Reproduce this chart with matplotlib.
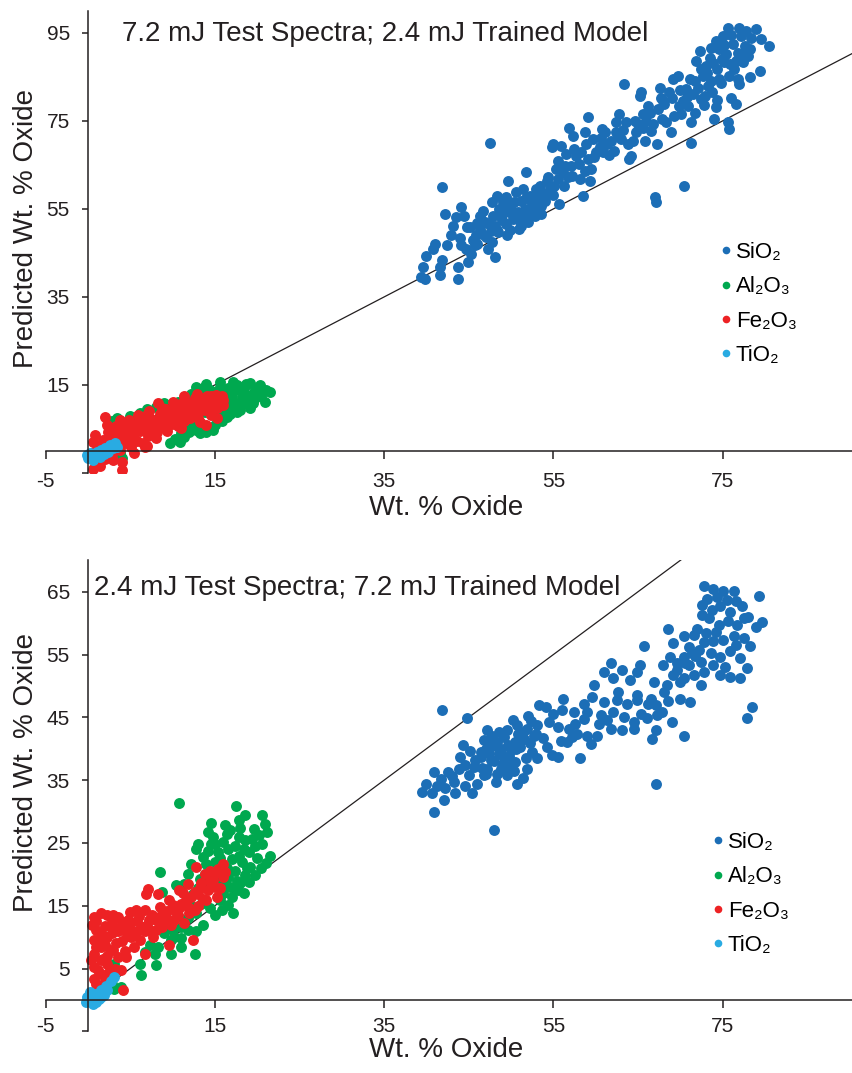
import matplotlib
matplotlib.use("Agg")
import matplotlib.pyplot as plt
from matplotlib.lines import Line2D

plt.rcParams["font.family"] = ["Liberation Sans", "DejaVu Sans"]
plt.rcParams["axes.unicode_minus"] = False

INK = "#231f20"

oxides = ["SiO\u2082", "Al\u2082O\u2083", "Fe\u2082O\u2083", "TiO\u2082"]
oxide_colors = ["#1c6eb6", "#00a84f", "#ed2224", "#29abe2"]

# 1:1 reference line
one_to_one = [0, 95]

# ---- top panel: 7.2 mJ test spectra, 2.4 mJ model (true, predicted)
si_top = [
    (39.4, 39.5), (39.8, 39.1), (39.6, 41.8), (40.0, 44.4), (40.8, 45.9), (41.0, 47.1),
    (41.6, 41.8), (41.6, 39.9), (41.8, 43.3), (42.4, 46.7), (42.9, 49.0), (43.1, 51.2),
    (43.5, 53.1), (42.2, 53.9), (41.8, 59.9), (44.1, 55.4), (44.5, 53.5), (43.7, 41.8),
    (43.7, 39.1), (44.1, 46.7), (44.7, 45.9), (44.9, 42.9), (45.1, 50.8), (45.3, 44.8),
    (45.7, 46.7), (45.9, 49.0), (46.3, 53.5), (46.3, 50.5), (46.7, 54.6), (46.9, 52.0),
    (47.1, 48.6), (47.3, 45.9), (47.5, 70.1), (47.7, 56.5), (47.9, 53.5), (48.1, 51.2),
    (48.1, 44.1), (48.3, 58.0), (48.5, 49.7), (48.8, 53.5), (49.0, 56.5), (49.4, 51.6),
    (49.4, 57.7), (49.6, 61.4), (49.8, 54.2), (50.2, 52.7), (50.4, 56.5), (50.6, 58.8),
    (50.8, 54.2), (51.0, 50.5), (51.2, 56.9), (51.4, 59.5), (51.6, 55.0), (51.8, 63.3),
    (52.0, 52.0), (52.2, 58.0), (52.4, 56.9), (52.8, 53.5), (53.0, 59.5), (53.2, 57.7),
    (53.4, 60.3), (53.8, 58.4), (54.0, 56.9), (54.2, 61.4), (54.4, 62.2), (54.6, 59.5),
    (54.8, 69.0), (55.0, 69.7), (55.1, 60.3), (55.3, 64.1), (55.5, 66.0), (55.7, 56.2),
    (55.9, 69.4), (56.1, 63.3), (56.3, 60.3), (56.5, 67.5), (56.7, 62.2), (56.9, 73.5),
    (57.1, 64.8), (57.3, 71.6), (57.5, 68.6), (57.7, 67.1), (58.1, 61.8), (58.3, 67.9),
    (58.5, 58.0), (58.7, 72.4), (58.9, 69.7), (59.1, 75.8), (59.1, 66.3), (59.3, 61.4),
    (59.5, 64.1), (59.7, 70.9), (60.1, 67.9), (60.5, 69.0), (60.7, 73.1), (60.9, 67.9),
    (61.1, 72.4), (61.4, 69.7), (61.8, 70.5), (62.2, 68.2), (62.4, 74.7), (62.6, 71.6),
    (62.8, 76.6), (63.0, 70.9), (63.4, 83.4), (63.6, 74.7), (63.8, 69.7), (64.0, 66.3),
    (64.2, 67.1), (64.6, 75.0), (64.8, 72.4), (65.0, 74.3), (65.2, 80.7), (65.4, 81.5),
    (65.6, 73.5), (65.8, 70.5), (66.0, 75.0), (66.2, 78.4), (66.4, 76.9), (66.6, 72.8),
    (67.0, 57.7), (67.1, 56.5), (67.2, 69.7), (67.4, 77.7), (67.6, 82.6), (67.7, 80.3),
    (67.9, 75.4), (68.1, 78.8), (68.3, 74.7), (68.7, 81.5), (68.9, 72.4), (69.1, 84.5),
    (69.3, 76.2), (69.7, 85.2), (69.9, 78.4), (70.1, 76.6), (70.3, 79.6), (70.5, 60.3),
    (70.7, 82.2), (70.9, 78.4), (71.1, 84.5), (71.3, 74.7), (71.3, 70.1), (71.5, 81.1),
    (71.7, 76.9), (71.9, 88.6), (72.1, 82.6), (72.3, 90.9), (72.5, 80.0), (72.7, 85.2),
    (72.9, 80.7), (73.1, 87.5), (73.3, 83.0), (73.5, 89.4), (73.6, 84.1), (73.8, 81.5),
    (74.0, 75.4), (74.2, 93.2), (74.2, 78.1), (74.4, 86.8), (74.6, 91.3), (74.8, 83.7),
    (75.0, 94.3), (75.2, 88.3), (75.4, 90.2), (75.6, 96.2), (75.6, 74.7), (75.8, 73.1),
    (75.8, 85.2), (76.0, 80.3), (76.2, 92.4), (76.4, 86.8), (76.6, 78.8), (76.8, 90.5),
    (77.0, 96.2), (77.0, 83.4), (77.2, 94.3), (77.4, 88.3), (77.6, 92.0), (77.8, 95.4),
    (78.0, 89.8), (78.2, 84.9), (78.4, 93.9), (79.0, 95.8), (79.4, 86.4), (79.6, 93.6),
    (80.5, 92.0), (48.6, 55.0), (49.9, 50.2), (50.9, 52.6), (52.6, 55.2), (47.6, 50.0),
    (46.0, 51.8), (49.2, 54.8), (51.5, 53.4), (53.6, 55.6), (74.9, 89.0), (75.9, 88.0),
    (44.0, 48.5), (44.8, 51.0), (45.5, 48.0), (46.0, 47.0), (46.6, 49.2), (47.4, 51.6),
    (47.8, 47.6), (48.4, 50.2), (48.9, 52.4), (49.5, 49.0), (50.0, 55.8), (50.5, 53.8),
    (51.2, 51.2), (51.8, 57.6), (52.3, 54.4), (52.9, 57.0), (53.5, 53.8), (54.3, 58.4),
    (55.0, 58.2), (55.6, 61.8), (56.4, 64.8), (57.2, 62.6), (58.0, 65.2), (58.8, 63.6),
    (59.8, 66.8), (60.6, 71.2), (61.6, 67.2), (62.4, 72.6), (63.2, 73.0), (64.4, 70.4),
    (65.6, 76.6), (66.8, 74.2), (68.0, 79.6), (69.0, 80.2), (70.0, 82.0), (70.8, 80.4),
    (71.8, 84.0), (72.4, 86.8), (73.2, 85.8), (73.9, 88.2), (74.6, 84.6), (75.2, 92.2),
    (76.0, 94.6), (76.6, 88.6), (77.4, 90.2), (78.2, 91.4), (74.4, 79.8), (72.8, 78.6),
    (73.6, 91.6), (76.8, 84.6),
]
al_top = [
    (2.8, 6.8), (3.4, 7.4), (3.6, 5.9), (4.0, -1.6), (3.8, -0.5), (5.0, 8.0), (6.2, 8.6),
    (7.0, 9.6), (8.0, 10.0), (9.0, 10.8), (9.7, 1.7), (10.3, 2.8), (10.9, 2.1), (11.3, 3.2),
    (11.5, 12.0), (12.0, 4.2), (12.4, 5.5), (12.8, 14.6), (13.2, 12.8), (13.5, 6.0),
    (14.0, 15.3), (14.0, 4.4), (14.4, 11.0), (14.8, 4.8), (15.0, 13.5), (15.4, 8.2),
    (15.6, 15.7), (16.0, 11.8), (16.4, 7.8), (16.6, 14.2), (17.0, 12.6), (17.2, 15.7),
    (17.4, 10.2), (17.8, 13.8), (18.0, 9.3), (18.2, 12.0), (18.6, 14.8), (18.7, 15.3),
    (19.0, 11.0), (19.5, 10.8), (19.6, 13.4), (20.0, 14.4), (20.3, 15.0), (20.4, 12.4),
    (20.9, 11.2), (21.0, 13.8), (21.5, 13.5), (16.2, 9.6), (17.6, 8.8), (15.8, 6.8),
    (14.6, 9.6), (13.8, 8.8), (12.6, 7.0), (11.8, 5.6), (13.0, 10.2), (19.2, 9.8),
    (18.4, 10.8), (16.8, 10.6), (15.2, 10.4), (17.6, 15.0), (19.2, 15.5), (12.2, 13.0),
    (10.6, 11.2), (15.0, 6.0), (16.8, 8.4), (13.2, 4.0), (16.2, 13.0), (17.0, 11.4),
    (18.0, 11.0), (18.8, 12.8), (19.8, 12.0), (15.6, 14.6), (14.4, 13.8), (17.4, 14.4),
    (13.6, 14.2), (11.0, 4.0), (12.8, 4.8),
]
fe_top = [
    (0.6, -4.0), (0.9, -3.0), (1.4, -3.5), (2.0, -1.8), (3.0, -2.0), (4.0, -2.4), (4.0, -4.3),
    (2.8, -0.8), (0.6, 2.1), (0.8, 3.6), (1.2, 1.0), (1.5, -1.0), (1.8, 2.5), (2.0, 7.8),
    (2.2, 5.9), (2.3, 0.5), (2.6, 3.0), (3.0, 4.5), (3.2, 1.6), (3.5, 2.8), (3.8, 7.1),
    (3.8, 0.2), (4.1, 4.0), (4.4, 1.8), (4.6, 5.2), (4.9, 3.0), (5.1, 0.9), (5.3, 6.0),
    (5.5, 3.8), (5.5, -0.4), (5.8, 2.2), (6.0, 6.8), (6.2, 4.6), (6.5, 1.8), (6.7, 8.0),
    (6.8, 0.8), (6.9, 5.5), (7.1, 3.4), (7.4, 7.2), (7.6, 4.8), (7.9, 6.2), (7.0, 1.2),
    (8.1, 2.9), (8.3, 10.8), (8.5, 8.4), (8.7, 5.4), (9.0, 7.0), (9.2, 9.5), (9.4, 4.6),
    (9.7, 8.2), (9.9, 6.2), (10.2, 9.8), (10.4, 7.4), (10.6, 5.6), (10.9, 10.6), (11.1, 8.6),
    (11.3, 6.8), (11.6, 11.2), (11.8, 9.2), (12.1, 7.6), (12.3, 10.0), (12.6, 12.0),
    (12.8, 8.4), (13.1, 10.8), (13.3, 6.6), (13.6, 11.8), (13.8, 9.4), (14.0, 5.8),
    (14.1, 12.4), (14.3, 10.2), (14.6, 8.2), (14.8, 11.4), (15.1, 12.8), (15.2, 7.4),
    (15.3, 9.8), (15.6, 11.0), (15.9, 12.4), (16.0, 10.4), (3.3, 5.6), (4.8, 7.0),
    (5.9, 8.2), (7.2, 9.0), (8.8, 9.8), (10.0, 11.2), (11.4, 12.6), (12.9, 13.0),
    (1.0, 0.0), (2.9, 2.0), (4.2, 2.8), (5.0, 4.6), (6.4, 5.8), (7.8, 5.2), (8.4, 7.0),
    (9.6, 7.0), (10.8, 8.0), (12.0, 9.0), (13.4, 9.2), (14.8, 9.8), (11.0, 5.2),
    (1.6, 1.4), (2.4, 4.2), (3.6, 3.6), (4.0, 5.8), (5.4, 2.6), (6.0, 5.0), (7.0, 6.4),
    (8.2, 4.4), (9.0, 5.6), (9.8, 9.2), (10.6, 9.4), (11.6, 7.2), (12.4, 11.2), (13.6, 10.4),
    (14.6, 12.6), (15.4, 12.0), (16.0, 11.6), (13.0, 7.4),
]
ti_top = [
    (-0.15, -0.9), (0.04, -1.7), (0.24, -0.5), (0.6, -2.0), (0.83, -0.9), (1.03, -0.2),
    (1.4, -1.3), (1.6, 0.2), (2.0, 0.6), (2.4, -0.2), (2.6, 1.4), (3.0, 0.6), (3.2, 1.8),
    (3.4, 1.0), (0.3, -1.2), (1.2, -0.6), (1.9, -0.6),
]

# ---- bottom panel: 2.4 mJ test spectra, 7.2 mJ model
si_bot = [
    (72.8, 65.9), (73.9, 65.4), (75.1, 65.1), (76.3, 65.1), (79.3, 64.3), (75.5, 63.7),
    (72.6, 62.9), (73.8, 62.1), (74.7, 62.7), (75.9, 61.8), (77.3, 62.7), (77.5, 60.8),
    (79.7, 60.2), (72.6, 61.3), (73.4, 60.8), (74.6, 59.7), (72.0, 59.1), (76.7, 59.7),
    (78.9, 59.4), (68.6, 59.1), (70.4, 57.9), (71.6, 58.2), (73.0, 58.4), (73.9, 57.1),
    (75.1, 57.4), (76.3, 57.9), (77.5, 57.6), (78.3, 56.3), (69.2, 56.8), (65.7, 56.4),
    (71.0, 56.2), (72.2, 55.7), (73.6, 55.2), (74.7, 54.6), (75.9, 55.5), (77.1, 54.4),
    (70.4, 54.6), (69.6, 53.6), (71.0, 53.3), (72.4, 53.8), (73.9, 53.3), (75.3, 53.0),
    (77.9, 52.8), (68.0, 53.3), (65.3, 53.3), (61.8, 53.6), (63.1, 52.5), (64.9, 52.2),
    (66.9, 50.7), (61.0, 52.2), (59.8, 50.2), (62.0, 51.2), (64.1, 51.0), (69.2, 51.8),
    (70.4, 51.2), (71.6, 51.8), (72.4, 50.2), (74.7, 51.8), (75.9, 51.5), (77.1, 51.2),
    (68.4, 50.2), (70.0, 50.7), (62.7, 49.1), (64.9, 48.5), (68.1, 49.1), (66.5, 48.0),
    (70.0, 48.0), (71.2, 47.5), (59.6, 48.3), (61.0, 47.5), (62.5, 47.7), (63.7, 47.2),
    (64.9, 47.7), (67.1, 46.9), (67.9, 45.8), (56.2, 48.0), (58.6, 47.2), (53.3, 47.0),
    (54.1, 46.7), (56.0, 46.2), (57.4, 45.9), (59.0, 45.9), (60.6, 45.4), (62.1, 45.9),
    (63.3, 45.1), (64.5, 44.3), (66.1, 44.9), (67.3, 45.4), (69.0, 44.3), (58.6, 44.8),
    (60.4, 44.0), (61.8, 43.2), (63.1, 43.0), (64.5, 43.2), (67.1, 43.0), (66.7, 41.6),
    (70.4, 42.1), (53.1, 43.8), (54.5, 44.3), (55.5, 43.5), (56.8, 43.2), (57.8, 42.4),
    (59.0, 42.1), (59.4, 40.8), (57.2, 41.9), (54.3, 40.3), (55.9, 41.3), (56.6, 41.1),
    (54.9, 39.0), (55.5, 38.7), (58.2, 38.5), (51.9, 43.2), (50.7, 43.8), (49.5, 43.0),
    (52.7, 42.1), (51.5, 41.6), (50.5, 41.1), (49.2, 41.9), (48.4, 41.1), (47.8, 42.1),
    (47.0, 40.0), (48.8, 40.0), (50.0, 39.8), (51.1, 40.3), (52.5, 39.5), (51.9, 36.8),
    (53.1, 38.5), (46.4, 38.7), (47.6, 38.2), (49.2, 38.7), (50.5, 37.9), (45.6, 37.1),
    (47.2, 36.8), (48.8, 36.8), (50.0, 37.4), (45.0, 35.8), (46.8, 35.8), (48.4, 36.0),
    (49.5, 35.8), (44.0, 38.7), (43.8, 36.8), (42.5, 36.3), (43.3, 34.7), (44.6, 34.1),
    (46.0, 34.4), (48.2, 34.7), (50.7, 34.4), (45.4, 32.9), (41.7, 35.2), (40.9, 36.3),
    (39.9, 34.4), (39.5, 33.2), (40.7, 32.9), (42.1, 31.8), (43.4, 32.9), (40.9, 29.9),
    (41.9, 46.2), (44.8, 44.9), (48.0, 27.0), (67.1, 34.4), (77.9, 44.9), (78.5, 46.7),
    (70.6, 53.6), (68.8, 54.6), (46.5, 39.5), (47.5, 40.8), (48.6, 39.2), (49.6, 40.6),
    (50.8, 42.4), (51.8, 38.5), (48.0, 38.0), (49.8, 37.0), (46.8, 41.4), (50.2, 44.6),
    (52.4, 44.4), (45.2, 39.6), (44.3, 40.6), (51.4, 35.4), (47.2, 43.0),
    (45.8, 38.2), (46.6, 37.0), (47.4, 39.4), (48.2, 40.4), (49.0, 37.6), (49.8, 38.8),
    (50.6, 40.0), (51.4, 42.6), (52.2, 41.0), (53.0, 42.4), (53.8, 41.8), (47.0, 36.0),
    (48.6, 42.6), (50.4, 36.4), (44.6, 37.4), (43.0, 35.6), (42.2, 33.8), (41.2, 34.0),
    (52.0, 45.2), (55.0, 45.6), (57.6, 44.0), (60.2, 42.0), (61.4, 44.6), (65.4, 45.6),
    (66.2, 47.2), (68.6, 47.6), (69.6, 52.6), (71.8, 54.8), (72.8, 57.0), (74.2, 58.6),
    (75.6, 60.4), (76.6, 56.6), (73.2, 63.8), (74.4, 64.2), (76.6, 63.6), (78.0, 61.0),
    (71.4, 55.2), (72.8, 52.2),
]
al_bot = [
    (10.75, 31.3), (17.5, 30.9), (18.6, 29.4), (17.8, 28.6), (20.6, 29.4), (20.9, 28.1),
    (21.2, 26.8), (14.6, 28.2), (14.2, 26.8), (16.2, 27.8), (16.4, 26.5), (15.0, 24.9),
    (13.0, 24.9), (12.8, 24.1), (14.2, 23.8), (15.4, 23.6), (16.6, 24.1), (17.4, 24.6),
    (18.6, 25.4), (19.4, 25.7), (19.8, 24.6), (20.6, 24.9), (21.5, 23.0), (19.0, 23.6),
    (17.8, 23.0), (18.2, 22.0), (19.2, 21.2), (19.8, 19.9), (18.6, 19.9), (17.4, 20.6),
    (16.6, 19.6), (16.8, 18.0), (17.7, 17.5), (17.0, 16.4), (16.6, 15.1), (15.0, 13.5),
    (12.2, 21.7), (11.8, 20.1), (11.4, 18.5), (8.5, 20.4), (8.7, 17.2), (10.4, 18.3),
    (13.4, 15.3), (12.8, 13.8), (11.8, 13.0), (11.0, 11.6), (10.0, 11.1), (9.0, 10.6),
    (9.8, 9.5), (11.0, 9.8), (11.8, 11.1), (9.8, 7.4), (8.3, 8.4), (7.9, 7.4), (7.3, 8.7),
    (6.7, 7.7), (6.1, 5.8), (6.3, 3.9), (12.6, 7.4), (3.1, 5.8), (2.9, 2.6), (3.1, 1.8),
    (3.9, 2.1), (13.8, 20.1), (15.8, 21.4), (15.0, 22.0), (16.0, 17.0), (18.0, 18.6),
    (14.0, 18.0), (12.4, 16.8), (15.6, 16.0), (13.6, 12.0), (14.4, 14.6),
    (17.0, 22.4), (18.4, 24.0), (16.0, 25.2), (20.0, 22.6), (18.8, 21.0), (17.8, 26.0),
    (15.2, 19.0), (14.0, 21.6), (13.0, 17.8), (12.2, 15.0), (10.6, 13.4), (9.2, 12.0),
    (14.8, 26.0), (16.8, 27.0), (18.0, 27.4), (19.6, 27.2), (20.2, 26.2), (15.6, 22.6),
    (16.4, 21.0), (17.6, 19.0), (18.4, 17.0), (19.0, 18.8), (16.2, 18.6), (20.4, 21.0),
    (21.0, 21.8), (14.6, 24.8), (13.6, 22.8), (13.2, 19.2), (17.2, 13.8), (15.8, 14.4),
    (12.8, 11.0), (8.0, 5.6), (11.0, 8.4), (10.2, 10.0),
]
fe_bot = [
    (0.7, 13.2), (1.5, 13.8), (2.3, 13.5), (2.9, 12.7), (0.9, 11.1), (0.7, 9.5), (0.7, 7.4),
    (0.7, 5.3), (0.7, 3.4), (1.5, 4.2), (1.5, 6.3), (1.5, 8.4), (1.5, 10.6), (2.3, 5.8),
    (2.6, 7.9), (2.3, 10.0), (3.1, 11.6), (3.3, 9.0), (3.5, 6.9), (3.9, 4.7), (4.1, 1.6),
    (4.3, 11.1), (4.7, 12.7), (5.1, 10.0), (5.5, 8.4), (5.7, 14.3), (6.5, 11.6), (6.7, 14.3),
    (6.9, 16.9), (7.1, 17.7), (6.7, 7.4), (7.7, 10.0), (8.1, 12.7), (8.5, 14.8), (8.7, 11.6),
    (9.2, 13.2), (9.6, 15.9), (9.8, 11.9), (9.6, 8.7), (10.6, 13.5), (10.8, 17.5), (11.0, 15.3),
    (11.4, 12.2), (11.8, 18.5), (12.2, 16.4), (12.4, 9.5), (12.6, 14.3), (12.8, 21.2),
    (13.2, 17.9), (13.6, 16.1), (13.8, 20.1), (14.2, 17.5), (14.4, 20.6), (14.8, 19.1),
    (15.2, 16.4), (15.4, 20.9), (15.8, 21.2), (16.0, 19.6), (16.2, 20.4), (10.0, 15.1),
    (8.3, 16.9), (5.1, 12.4), (3.5, 13.2), (4.5, 6.9), (0.5, 12.0), (1.0, 12.5), (1.2, 9.0),
    (2.0, 11.8), (2.0, 8.8), (1.8, 6.5), (2.8, 10.6), (3.0, 8.0), (2.5, 4.5), (3.6, 11.0),
    (4.0, 9.4), (4.4, 7.8), (4.8, 11.6), (5.4, 10.4), (5.8, 12.6), (6.2, 9.6), (6.8, 11.0),
    (7.2, 12.8), (7.6, 13.6), (8.0, 11.2), (8.8, 13.6), (9.4, 14.2), (10.2, 12.8),
    (10.8, 14.6), (11.6, 16.0), (12.0, 13.8), (12.6, 17.2), (13.0, 15.0), (13.4, 18.6),
    (14.0, 16.0), (14.6, 18.2), (15.0, 20.2), (15.6, 17.8), (16.0, 21.6), (11.2, 17.0),
    (1.0, 2.6), (2.0, 3.0), (0.4, 6.4), (5.0, 14.0), (7.0, 12.0), (9.0, 12.4),
    (1.2, 4.8), (2.2, 7.0), (0.9, 8.4), (1.9, 10.0), (3.0, 13.6), (4.0, 12.4), (5.8, 11.0),
    (7.4, 11.0), (8.4, 13.2), (10.4, 14.0), (11.8, 14.8), (13.0, 16.8), (14.4, 19.0),
    (15.0, 18.0), (6.0, 13.4), (4.6, 10.2), (3.2, 5.0),
]
ti_bot = [
    (-0.1, 0.5), (0.3, 0.0), (0.9, 1.0), (1.5, 1.6), (2.1, 2.3), (2.7, 3.1), (3.1, 3.7),
    (1.3, 0.2), (0.7, 0.2), (2.3, 1.6), (1.9, 0.8), (0.2, 1.2), (1.0, -0.4), (0.5, 0.8),
    (1.6, 0.4), (-0.2, -0.4), (0.6, -0.6),
]

x_ticks = [-5, 15, 35, 55, 75]
top_yticks = [-5, 15, 35, 55, 75, 95]
bot_yticks = [-5, 5, 15, 25, 35, 45, 55, 65]


def draw_panel(fig, rect, ylim, yticks, series, title, title_xy, legend_xy, xpad):
    ax = fig.add_axes(rect)
    ax.plot(one_to_one, one_to_one, color=INK, lw=0.9, zorder=1)
    for points, color in zip(series, oxide_colors):
        xs = [p[0] for p in points]
        ys = [p[1] for p in points]
        ax.scatter(xs, ys, s=62, color=color, linewidths=0, zorder=2)

    ax.set_xlim(-5, 90.3)
    ax.set_ylim(*ylim)
    for side in ["top", "right"]:
        ax.spines[side].set_visible(False)
    ax.spines["left"].set_position(("data", 0))
    ax.spines["bottom"].set_position(("data", 0))
    for side in ["left", "bottom"]:
        ax.spines[side].set_color(INK)
        ax.spines[side].set_linewidth(1.1)

    ax.set_xticks(x_ticks)
    ax.set_yticks(yticks, ["" if t == -5 else str(t) for t in yticks])
    ax.tick_params(axis="x", direction="out", length=5.5, width=1.1, color=INK,
                   labelsize=15, labelcolor=INK, pad=xpad)
    ax.tick_params(axis="y", direction="out", length=4.5, width=1.1, color=INK,
                   labelsize=15, labelcolor=INK, pad=8.5)
    ax.patch.set_alpha(0)

    fig.text(title_xy[0], title_xy[1], title, fontsize=20, color=INK,
             ha="left", va="baseline")

    handles = [Line2D([], [], marker="o", linestyle="", markersize=5.5,
                      markerfacecolor=c, markeredgewidth=0) for c in oxide_colors]
    fig.legend(handles, oxides, loc="upper left", bbox_to_anchor=legend_xy,
               frameon=False, fontsize=16, handlelength=0.5, handletextpad=0.2,
               labelspacing=0.6, borderpad=0, borderaxespad=0)
    return ax


fig = plt.figure(figsize=(8.52, 10.73), dpi=100)
fig.patch.set_facecolor("white")

draw_panel(fig, [0.0535, 0.5592, 0.9465, 0.4306], (-5, 100), top_yticks,
           [si_top, al_top, fe_top, ti_top],
           "7.2 mJ Test Spectra; 2.4 mJ Trained Model", (0.1432, 0.9618),
           (0.8455, 0.7745), 9.5)
draw_panel(fig, [0.0535, 0.0388, 0.9465, 0.4389], (-5, 70), bot_yticks,
           [si_bot, al_bot, fe_bot, ti_bot],
           "2.4 mJ Test Spectra; 7.2 mJ Trained Model", (0.1103, 0.4455),
           (0.8362, 0.2246), 7.0)

for y_lab, y_x in [(0.520, 0.7866), (0.0150, 0.2796)]:
    fig.text(0.524, y_lab, "Wt. % Oxide", fontsize=20, color=INK,
             ha="center", va="baseline")
    fig.text(0.030, y_x, "Predicted Wt. % Oxide", fontsize=20, color=INK,
             rotation=90, ha="center", va="center")

fig.savefig("out.png", dpi=100)
